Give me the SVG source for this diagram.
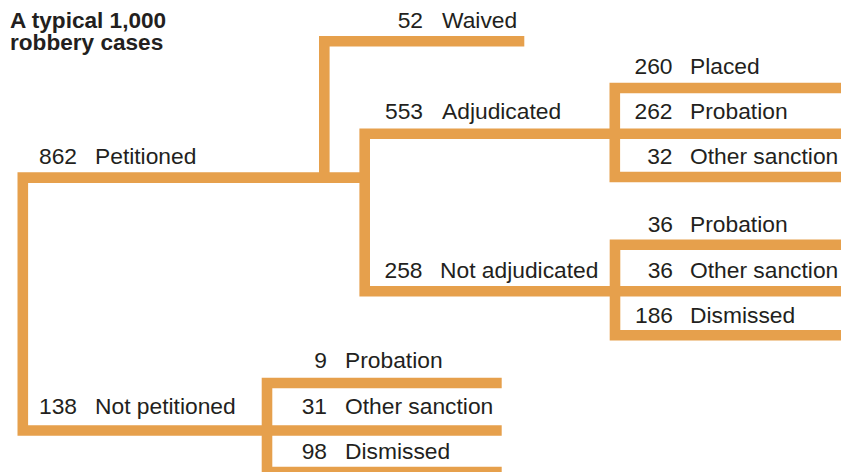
<svg xmlns="http://www.w3.org/2000/svg" width="841" height="472" viewBox="0 0 841 472">
<style>
.ln{fill:none;stroke:#E6A04C;stroke-width:10.6;stroke-linejoin:miter;stroke-linecap:butt}
text{font-family:"Liberation Sans",Arial,Helvetica,sans-serif;font-size:22.8px;fill:#231f20}
.n{text-anchor:end}
.t{font-weight:bold;font-size:22.6px}
</style>
<rect width="841" height="472" fill="#ffffff"/>
<g id="connectors">
<path class="ln" d="M364.7,177.6 H22.8 V430.5 H267"/>
<path class="ln" d="M324.3,177.6 V41.3 H524.3"/>
<path class="ln" d="M614.8,133.7 H364.7 V291.3 H615"/>
<path class="ln" d="M841,88 H614.8 V177 H841 M614.8,133.7 H841"/>
<path class="ln" d="M841,244.7 H615 V335.3 H841 M615,291.3 H841"/>
<path class="ln" d="M501.7,383 H267 V472 H501.7 M267,430.5 H501.7"/>
</g>
<g id="title"><text class="t" x="10" y="27.5">A typical 1,000<tspan x="10" y="49.5">robbery cases</tspan></text></g>
<g id="petitioned"><text class="n" x="77" y="164">862</text><text x="95" y="164">Petitioned</text></g>
<g id="waived"><text class="n" x="423" y="28.3">52</text><text x="442" y="28.3">Waived</text></g>
<g id="adjudicated"><text class="n" x="423" y="119.3">553</text><text x="442" y="119.3">Adjudicated</text></g>
<g id="adj-placed"><text class="n" x="672.5" y="74.3">260</text><text x="690" y="74.3">Placed</text></g>
<g id="adj-probation"><text class="n" x="672.5" y="119">262</text><text x="690" y="119">Probation</text></g>
<g id="adj-other"><text class="n" x="672.5" y="164">32</text><text x="690" y="164">Other sanction</text></g>
<g id="not-adjudicated"><text class="n" x="422.5" y="278.3">258</text><text x="440" y="278.3">Not adjudicated</text></g>
<g id="nadj-probation"><text class="n" x="673" y="232.3">36</text><text x="690" y="232.3">Probation</text></g>
<g id="nadj-other"><text class="n" x="673" y="278.3">36</text><text x="690" y="278.3">Other sanction</text></g>
<g id="nadj-dismissed"><text class="n" x="673" y="323.3">186</text><text x="690" y="323.3">Dismissed</text></g>
<g id="not-petitioned"><text class="n" x="77" y="413.5">138</text><text x="95" y="413.5">Not petitioned</text></g>
<g id="np-probation"><text class="n" x="327" y="367.5">9</text><text x="345" y="367.5">Probation</text></g>
<g id="np-other"><text class="n" x="327" y="414">31</text><text x="345" y="414">Other sanction</text></g>
<g id="np-dismissed"><text class="n" x="327" y="459.3">98</text><text x="345" y="459.3">Dismissed</text></g>
</svg>
